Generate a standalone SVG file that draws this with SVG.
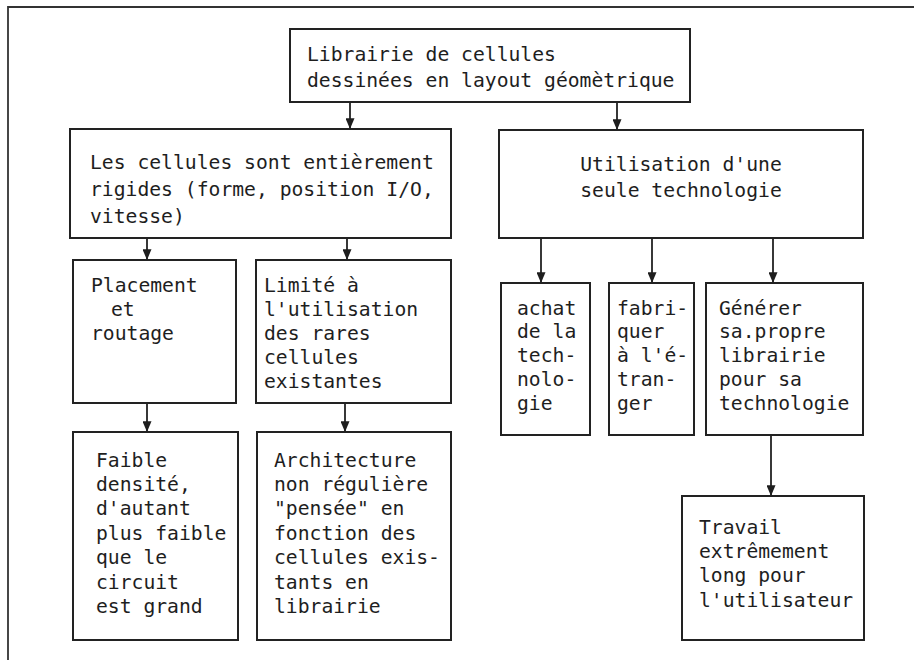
<svg xmlns="http://www.w3.org/2000/svg" width="914" height="660" viewBox="0 0 914 660">
<style>
.box{fill:#fff;stroke:#222;stroke-width:2}
.t{font-family:"DejaVu Sans Mono","Liberation Mono",monospace;font-size:19.7px;fill:#1e1e1e}
.c{stroke:#222;stroke-width:1.8;fill:none;marker-end:url(#ah)}
.frame{stroke:#333;stroke-width:1.8;fill:none}
</style>
<defs>
<marker id="ah" viewBox="0 0 12 10" refX="12" refY="5" markerWidth="12" markerHeight="9" markerUnits="userSpaceOnUse" orient="auto">
<path d="M0,0 L12,5 L0,10 z" fill="#1e1e1e"/>
</marker>
</defs>
<rect width="914" height="660" fill="#fff"/>
<path class="frame" d="M8,660 L8,7 L914,7"/>
<g id="connectors">
<line class="c" x1="350" y1="102" x2="350" y2="129"/>
<line class="c" x1="617" y1="102" x2="617" y2="130"/>
<line class="c" x1="147" y1="238" x2="147" y2="260"/>
<line class="c" x1="347" y1="238" x2="347" y2="260"/>
<line class="c" x1="147" y1="403" x2="147" y2="432"/>
<line class="c" x1="345" y1="403" x2="345" y2="432"/>
<line class="c" x1="541" y1="238" x2="541" y2="283"/>
<line class="c" x1="652" y1="238" x2="652" y2="283"/>
<line class="c" x1="773" y1="238" x2="773" y2="283"/>
<line class="c" x1="771" y1="435" x2="771" y2="496"/>
</g>
<g id="n-librairie">
<rect class="box" x="290" y="29" width="400" height="73"/>
<text class="t" x="307" y="61">Librairie de cellules</text>
<text class="t" x="307" y="87">dessinées en layout géomètrique</text>
</g>
<g id="n-rigides">
<rect class="box" x="70" y="129" width="381" height="109"/>
<text class="t" x="90" y="169">Les cellules sont entièrement</text>
<text class="t" x="90" y="196">rigides (forme, position I/O,</text>
<text class="t" x="90" y="223">vitesse)</text>
</g>
<g id="n-utilisation">
<rect class="box" x="499" y="130" width="364" height="108"/>
<text class="t" x="681" y="171" text-anchor="middle">Utilisation d'une</text>
<text class="t" x="681" y="197" text-anchor="middle">seule technologie</text>
</g>
<g id="n-placement">
<rect class="box" x="73" y="260" width="163" height="143"/>
<text class="t" x="91" y="292">Placement</text>
<text class="t" x="111" y="316">et</text>
<text class="t" x="91" y="340">routage</text>
</g>
<g id="n-limite">
<rect class="box" x="256" y="260" width="195" height="143"/>
<text class="t" x="264" y="292">Limité à</text>
<text class="t" x="264" y="316">l'utilisation</text>
<text class="t" x="264" y="340">des rares</text>
<text class="t" x="264" y="364">cellules</text>
<text class="t" x="264" y="388">existantes</text>
</g>
<g id="n-faible">
<rect class="box" x="73" y="432" width="165" height="208"/>
<text class="t" x="96" y="467">Faible</text>
<text class="t" x="96" y="491">densité,</text>
<text class="t" x="96" y="515">d'autant</text>
<text class="t" x="96" y="540">plus faible</text>
<text class="t" x="96" y="564">que le</text>
<text class="t" x="96" y="589">circuit</text>
<text class="t" x="96" y="613">est grand</text>
</g>
<g id="n-architecture">
<rect class="box" x="257" y="432" width="194" height="208"/>
<text class="t" x="274" y="467">Architecture</text>
<text class="t" x="274" y="491">non régulière</text>
<text class="t" x="274" y="515">"pensée" en</text>
<text class="t" x="274" y="540">fonction des</text>
<text class="t" x="274" y="564">cellules exis-</text>
<text class="t" x="274" y="589">tants en</text>
<text class="t" x="274" y="613">librairie</text>
</g>
<g id="n-achat">
<rect class="box" x="501" y="283" width="89" height="152"/>
<text class="t" x="517" y="315">achat</text>
<text class="t" x="517" y="338">de la</text>
<text class="t" x="517" y="362">tech-</text>
<text class="t" x="517" y="386">nolo-</text>
<text class="t" x="517" y="410">gie</text>
</g>
<g id="n-fabriquer">
<rect class="box" x="609" y="283" width="85" height="152"/>
<text class="t" x="617" y="315">fabri-</text>
<text class="t" x="617" y="338">quer</text>
<text class="t" x="617" y="362">à l'é-</text>
<text class="t" x="617" y="386">tran-</text>
<text class="t" x="617" y="410">ger</text>
</g>
<g id="n-generer">
<rect class="box" x="706" y="283" width="157" height="152"/>
<text class="t" x="719" y="315">Générer</text>
<text class="t" x="719" y="338">sa.propre</text>
<text class="t" x="719" y="362">librairie</text>
<text class="t" x="719" y="386">pour sa</text>
<text class="t" x="719" y="410">technologie</text>
</g>
<g id="n-travail">
<rect class="box" x="682" y="496" width="182" height="144"/>
<text class="t" x="699" y="534">Travail</text>
<text class="t" x="699" y="558">extrêmement</text>
<text class="t" x="699" y="582">long pour</text>
<text class="t" x="699" y="607">l'utilisateur</text>
</g>
</svg>
